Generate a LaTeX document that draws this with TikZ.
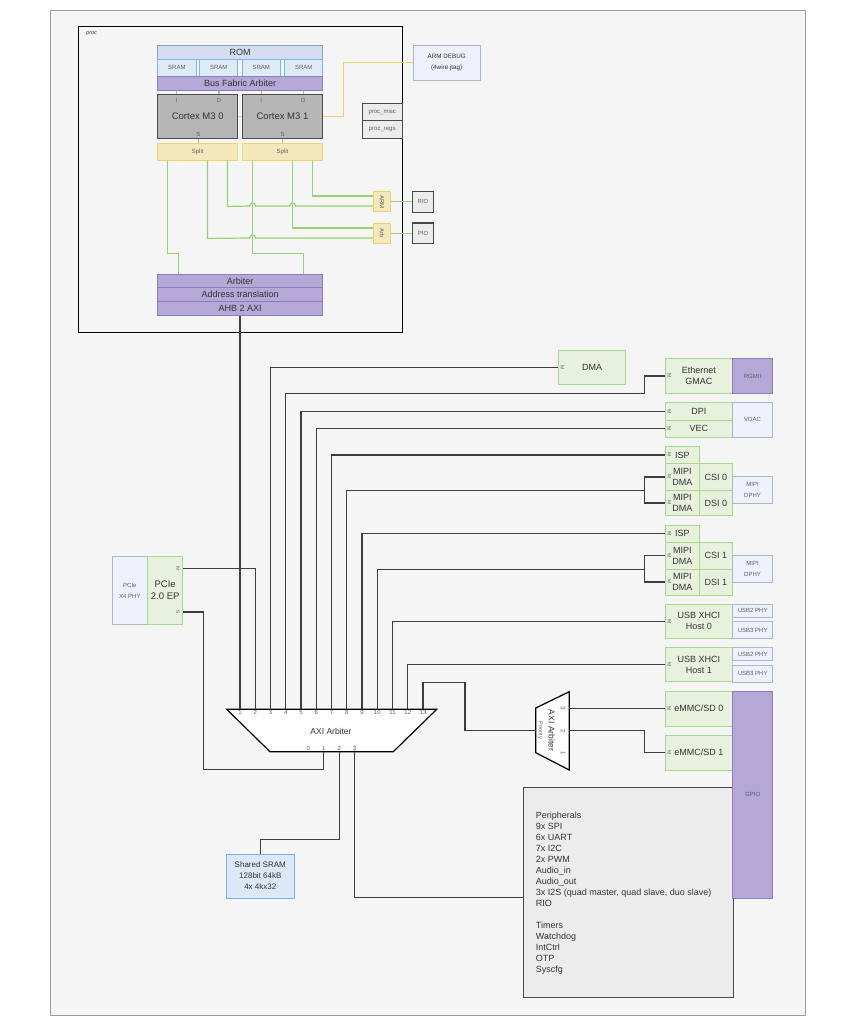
\documentclass[tikz,border=0pt]{standalone}
\usepackage{fontspec}
\setmainfont{Liberation Sans}
\usepackage{tikz}
\usepackage{xcolor}
\definecolor{bgray}{HTML}{F5F5F5}
\definecolor{framegray}{HTML}{9A9A9A}
\definecolor{txtdark}{HTML}{333333}
\definecolor{txtgray}{HTML}{5F5F5F}
\definecolor{grnfill}{HTML}{E7F1DE}
\definecolor{grnline}{HTML}{A8D98B}
\definecolor{phyfill}{HTML}{EEF1FA}
\definecolor{phyline}{HTML}{A9B6CC}
\definecolor{purfill}{HTML}{B5A8D7}
\definecolor{purline}{HTML}{8E7CC3}
\definecolor{romfill}{HTML}{D6DDF1}
\definecolor{romline}{HTML}{8AA3CB}
\definecolor{sramfill}{HTML}{DDEBF7}
\definecolor{sramline}{HTML}{78B7E4}
\definecolor{cpufill}{HTML}{B6B6B6}
\definecolor{cpuline}{HTML}{4A4A4A}
\definecolor{boxgray}{HTML}{ECECEC}
\definecolor{splfill}{HTML}{F4E7BA}
\definecolor{splline}{HTML}{EFD36C}
\definecolor{gwirec}{HTML}{95D46E}
\definecolor{ywirec}{HTML}{EBD36C}
\definecolor{bwirec}{HTML}{3D3D3D}
\definecolor{shfill}{HTML}{DCE8F7}
\definecolor{shline}{HTML}{70B4EA}
\tikzset{
  blk/.style={draw, inner sep=0pt, align=center, text=txtdark, line width=0.9pt, font=\fontsize{9}{11}\selectfont},
  gbox/.style={blk, fill=grnfill, draw=grnline},
  phybox/.style={blk, fill=phyfill, draw=phyline, text=txtgray, font=\fontsize{6}{11}\selectfont},
  purpbox/.style={blk, fill=purfill, draw=purline},
  smallpurp/.style={purpbox, text=txtgray, font=\fontsize{6}{11}\selectfont},
  srambox/.style={blk, fill=sramfill, draw=sramline, text=txtgray, font=\fontsize{6}{7}\selectfont},
  cpubox/.style={blk, fill=cpufill, draw=cpuline, line width=1.1pt, font=\fontsize{9.5}{11}\selectfont},
  graybox/.style={blk, fill=boxgray, draw=cpuline, line width=1.1pt, text=txtgray, font=\fontsize{6}{7}\selectfont},
  splitbox/.style={blk, fill=splfill, draw=splline, text=txtgray, font=\fontsize{6}{7}\selectfont},
  plbl/.style={inner sep=0.8pt, text=txtgray, font=\fontsize{6}{6}\selectfont},
  mport/.style={inner sep=0pt, rotate=-90, text=txtgray, font=\fontsize{5}{5}\selectfont},
  gwire/.style={gwirec, line width=1.2pt},
  ywire/.style={ywirec, line width=1.2pt},
  bwire/.style={bwirec, line width=1.2pt},
  arbshape/.style={draw=black, fill=white, line width=1.2pt, line join=miter}
}
\begin{document}
\begin{tikzpicture}[x=1pt,y=-1pt]
\useasboundingbox (0,0) rectangle (855,1024);
\fill[white] (0,0) rectangle (855,1024);
\draw[framegray, fill=bgray, line width=0.8pt] (50,10) rectangle (805,1015);

\node[draw=black, line width=0.9pt, minimum width=324.2pt, minimum height=306pt, inner sep=0pt] (proc) at (240.2,179) {};
\node[inner sep=0pt, anchor=west, text=txtdark, font=\fontsize{5.5}{6}\selectfont\itshape] (proc-l) at (86,34) {proc};

\node[blk, fill=romfill, draw=romline, minimum width=165pt, minimum height=14pt] (rom) at (240.2,52) {ROM};
\node[srambox, minimum width=38.3pt, minimum height=17.7pt] (sram1) at (176.9,67.9) {SRAM};
\node[srambox, minimum width=38pt, minimum height=17.7pt] (sram2) at (218.7,67.9) {SRAM};
\node[srambox, minimum width=38pt, minimum height=17.7pt] (sram3) at (261.3,67.9) {SRAM};
\node[srambox, minimum width=38pt, minimum height=17.7pt] (sram4) at (303.7,67.9) {SRAM};
\node[purpbox, minimum width=165pt, minimum height=14pt] (bfa) at (240.2,83.7) {Bus Fabric Arbiter};
\node[cpubox, minimum width=80pt, minimum height=43.6pt] (cm0) at (197.7,116.5) {Cortex M3 0};
\node[cpubox, minimum width=80.4pt, minimum height=43.6pt] (cm1) at (282.5,116.5) {Cortex M3 1};
\node[plbl] (cm0-i) at (176.7,100) {I};
\node[plbl] (cm0-d) at (219,100) {D};
\node[plbl] (cm1-i) at (261.3,100) {I};
\node[plbl] (cm1-d) at (303.3,100) {D};
\node[plbl] (cm0-s) at (198.3,134.3) {S};
\node[plbl] (cm1-s) at (282.7,134.3) {S};
\node[splitbox, minimum width=80pt, minimum height=17pt] (split0) at (197.7,151.5) {Split};
\node[splitbox, minimum width=80.4pt, minimum height=17pt] (split1) at (282.5,151.5) {Split};
\node[graybox, minimum width=40.3pt, minimum height=17.4pt] (misc) at (382.2,112) {proc\_misc};
\node[graybox, minimum width=40.3pt, minimum height=17.6pt] (regs) at (382.2,129.5) {proc\_regs};
\node[phybox, text=txtdark, font=\fontsize{6.3}{11}\selectfont, minimum width=66.7pt, minimum height=35pt] (dbg) at (446.7,62.5) {ARM DEBUG\\(4wire jtag)};
\node[splitbox, minimum width=17.4pt, minimum height=20pt] (arm) at (382,201.7) {\rotatebox{-90}{ARM}};
\node[splitbox, minimum width=17.4pt, minimum height=20pt] (arb) at (382,233.3) {\rotatebox{-90}{Arb}};
\node[graybox, minimum width=20.6pt, minimum height=21pt] (rio) at (423,201.7) {RIO};
\node[graybox, minimum width=20.6pt, minimum height=20.6pt] (pio) at (423,233.3) {PIO};
\node[purpbox, minimum width=165pt, minimum height=13.4pt] (arbt) at (240.2,281) {Arbiter};
\node[purpbox, minimum width=165pt, minimum height=14pt] (adtr) at (240.2,294.7) {Address translation};
\node[purpbox, minimum width=165pt, minimum height=13.3pt] (ahb) at (240.2,308.4) {AHB 2 AXI};

\foreach \n/\c in {cm0-i/cm0,cm0-d/cm0,cm1-i/cm1,cm1-d/cm1}
  \draw[gwire] (\n |- bfa.south) -- (\n |- \c.north);
\draw[gwire] (cm0-s |- cm0.south) -- (cm0-s |- split0.north);
\draw[gwire] (cm1-s |- cm1.south) -- (cm1-s |- split1.north);
\draw[ywire] (cm0.east) -- (cm1.west);
\draw[ywire] (cm1.east) -- ++(20,0) |- (dbg.west);

\draw[gwire] ([xshift=10.3pt]split0.south west) -- ++(0,93) -| ([xshift=21pt]arbt.north west);
\draw[gwire] ([xshift=50.3pt]split0.south west) -- ++(0,78) -- (249.7,238) arc[start angle=180, end angle=0, radius=3pt] -- ([yshift=-4.7pt]arb.west);
\draw[gwire] ([xshift=70.3pt]split0.south west) -- ++(0,46) -- (249.7,206) arc[start angle=180, end angle=0, radius=3pt] -- (289.7,206) arc[start angle=180, end angle=0, radius=3pt] -- ([yshift=-4.3pt]arm.west);
\draw[gwire] ([xshift=10.4pt]split1.south west) -- ++(0,93) -| ([xshift=-20pt]arbt.north east);
\draw[gwire] ([xshift=50.4pt]split1.south west) |- ([yshift=5.3pt]arb.west);
\draw[gwire] ([xshift=70.4pt]split1.south west) |- ([yshift=5.7pt]arm.west);
\draw[gwire] (arm.east) -- (rio.west);
\draw[gwire] (arb.east) -- (pio.west);

\node[gbox, minimum width=67.4pt, minimum height=34.7pt] (dma) at (592,367.3) {DMA};
\node[gbox, minimum width=67pt, minimum height=34.6pt] (eth) at (698.8,376) {Ethernet\\GMAC};
\node[smallpurp, minimum width=40.4pt, minimum height=34.6pt] (rgmii) at (752.5,376) {RGMII};
\node[gbox, minimum width=67pt, minimum height=17.7pt] (dpi) at (698.8,411.2) {DPI};
\node[gbox, minimum width=67pt, minimum height=17.3pt] (vec) at (698.8,428.7) {VEC};
\node[phybox, minimum width=40.4pt, minimum height=35pt] (vdac) at (752.5,419.8) {VDAC};
\node[gbox, minimum width=34pt, minimum height=17.7pt] (isp0) at (682.3,454.9) {ISP};
\node[gbox, minimum width=34pt, minimum height=26.6pt] (mdma0) at (682.3,477) {MIPI\\DMA};
\node[gbox, minimum width=33pt, minimum height=26.6pt] (csi0) at (715.8,477) {CSI 0};
\node[gbox, minimum width=34pt, minimum height=25.4pt] (mdsi0) at (682.3,503) {MIPI\\DMA};
\node[gbox, minimum width=33pt, minimum height=25.4pt] (dsi0) at (715.8,503) {DSI 0};
\node[phybox, minimum width=40.4pt, minimum height=27pt] (dphy0) at (752.5,489.8) {MIPI\\DPHY};
\node[gbox, minimum width=34pt, minimum height=17.3pt] (isp1) at (682.3,533.7) {ISP};
\node[gbox, minimum width=34pt, minimum height=26.7pt] (mdma1) at (682.3,555.7) {MIPI\\DMA};
\node[gbox, minimum width=33pt, minimum height=26.7pt] (csi1) at (715.8,555.7) {CSI 1};
\node[gbox, minimum width=34pt, minimum height=26pt] (mdsi1) at (682.3,582) {MIPI\\DMA};
\node[gbox, minimum width=33pt, minimum height=26pt] (dsi1) at (715.8,582) {DSI 1};
\node[phybox, minimum width=40.4pt, minimum height=26.7pt] (dphy1) at (752.5,568.7) {MIPI\\DPHY};
\node[gbox, minimum width=67pt, minimum height=34pt] (usb0) at (698.8,621.3) {USB XHCI\\Host 0};
\node[phybox, minimum width=40pt, minimum height=13.5pt] (usb0-p2) at (752.7,610.8) {USB2 PHY};
\node[phybox, minimum width=40pt, minimum height=17pt] (usb0-p3) at (752.7,630) {USB3 PHY};
\node[gbox, minimum width=67pt, minimum height=34.4pt] (usb1) at (698.8,664.5) {USB XHCI\\Host 1};
\node[phybox, minimum width=40pt, minimum height=13pt] (usb1-p2) at (752.7,654.2) {USB2 PHY};
\node[phybox, minimum width=40pt, minimum height=16.7pt] (usb1-p3) at (752.7,673.7) {USB3 PHY};
\node[gbox, minimum width=67pt, minimum height=35pt] (emmc0) at (698.8,708.5) {eMMC/SD 0};
\node[gbox, minimum width=67pt, minimum height=35pt] (emmc1) at (698.8,752.5) {eMMC/SD 1};
\node[graybox, line width=1pt, minimum width=210pt, minimum height=210pt] (periph) at (628.3,892) {};
\node[inner sep=0pt, anchor=north west, align=left, text=txtdark, font=\fontsize{9}{11}\selectfont] (periph-t) at (535.7,812) {Peripherals\\9x SPI\\6x UART\\7x I2C\\2x PWM\\Audio\_in\\Audio\_out\\3x I2S (quad master, quad slave, duo slave)\\RIO\\[11pt]Timers\\Watchdog\\IntCtrl\\OTP\\Syscfg};
\node[smallpurp, minimum width=40pt, minimum height=207pt] (gpio) at (752.7,794.5) {GPIO};
\foreach \b in {dma,eth,dpi,vec,isp0,mdma0,mdsi0,isp1,mdma1,mdsi1,usb0,usb1,emmc0,emmc1}
  \node[mport] (\b-m) at ([xshift=4.5pt]\b.west) {M};

\node[phybox, minimum width=35.7pt, minimum height=67.3pt] (pciephy) at (129.9,590.4) {PCIe\\X4 PHY};
\node[gbox, font=\fontsize{9.5}{12}\selectfont, minimum width=35pt, minimum height=67.3pt] (pcie) at (165.2,590.4) {PCIe\\2.0 EP};
\node[mport] (pcie-m) at ([xshift=-5pt,yshift=21.7pt]pcie.east) {M};
\node[mport] (pcie-s) at ([xshift=-5pt,yshift=-21.6pt]pcie.east) {S};
\node[blk, fill=shfill, draw=shline, font=\fontsize{8}{11}\selectfont, minimum width=67.3pt, minimum height=44pt] (sram) at (260.3,876) {Shared SRAM\\128bit 64kB\\4x 4kx32};

\draw[arbshape] (226.7,709.3) -- (436.7,709.3) -- (393.3,751.7) -- (270,751.7) -- cycle;
\node[text=txtdark, font=\fontsize{8.5}{9}\selectfont] (axi) at (331,731) {AXI Arbiter};
\foreach \i in {1,...,13}
  \node[plbl, anchor=north] (in\i) at ({240+(\i-1)*15.25},709.3) {\i};
\foreach \j in {0,...,3}
  \node[plbl, anchor=south] (out\j) at ({308.3+\j*15.45},751.7) {\j};

\draw[arbshape] (535.7,708) -- (569.3,691.7) -- (569.3,770) -- (535.7,752.7) -- cycle;
\coordinate (sarb-in) at (535.7,730.5);
\coordinate (sarb-out) at (569.3,730.5);
\node[rotate=-90, text=txtdark, font=\fontsize{8.5}{9}\selectfont] (sarb) at (551.7,730.5) {AXI Arbiter};
\node[rotate=-90, text=txtgray, font=\fontsize{5.5}{6}\selectfont] (sprio) at (540.2,730.5) {Priority};
\node[plbl, rotate=-90] (sq3) at (563,708.5) {3};
\node[plbl, rotate=-90] (sq2) at (563,730.7) {2};
\node[plbl, rotate=-90] (sq1) at (563,753) {1};

\draw[bwire] (in1.north) -- (in1.north |- ahb.south);
\draw[bwire] (in2.north) |- (pcie-m -| pcie.east);
\draw[bwire] (in3.north) |- (dma.west);
\draw[bwire] (in4.north) |- ([xshift=-20.3pt]eth.south west) |- (eth.west);
\draw[bwire] (in5.north) |- (dpi.west);
\draw[bwire] (in6.north) |- (vec.west);
\draw[bwire] (in7.north) |- (isp0.west);
\draw[bwire] (in8.north) |- ([xshift=-20pt]mdma0.south west) |- (mdma0.west);
\draw[bwire] ([xshift=-20pt]mdma0.south west) |- (mdsi0.west);
\draw[bwire] (in9.north) |- (isp1.west);
\draw[bwire] (in10.north) |- ([xshift=-20pt]mdma1.south west) |- (mdma1.west);
\draw[bwire] ([xshift=-20pt]mdma1.south west) |- (mdsi1.west);
\draw[bwire] (in11.north) |- (usb0.west);
\draw[bwire] (in12.north) |- (usb1.west);
\draw[bwire] (in13.north) -- ++(0,-26.6) -| ([xshift=-70.7pt]sarb-in) -- (sarb-in);
\draw[bwire] (sarb-out |- emmc0.west) -- (emmc0.west);
\draw[bwire] (sarb-out |- sq2) -| ([xshift=-20.3pt]emmc1.west) -- (emmc1.west);
\draw[bwire] (out1.south) -- ++(0,17.6) -| ([xshift=20pt]pcie-s -| pcie.east) -- (pcie-s -| pcie.east);
\draw[bwire] (out2.south) -- ++(0,87.6) -| (sram.north);
\draw[bwire] (out3.south) |- ([yshift=-5.7pt]periph.west);
\end{tikzpicture}
\end{document}
